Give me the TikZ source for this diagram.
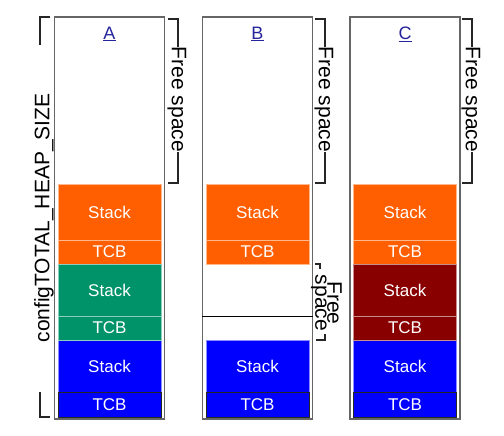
\documentclass[tikz,border=0pt]{standalone}
\usepackage{fontspec}
\setmainfont{Liberation Sans}
\definecolor{stkorange}{HTML}{FF5F00}
\definecolor{stkgreen}{HTML}{00936A}
\definecolor{stkblue}{HTML}{0000FF}
\definecolor{stkred}{HTML}{880000}
\definecolor{linkblue}{HTML}{24249C}
\begin{document}
\begin{tikzpicture}[x=1pt,y=-1pt,
  blk/.style={draw=white!55!#1,fill=#1,line width=0.8pt,text=white,
    minimum width=103pt,inner sep=0pt,font=\fontsize{17}{17}\selectfont},
  col/.style={draw=black!60,line width=1.3pt,minimum width=110pt,
    minimum height=402pt,inner sep=0pt},
  brk/.style={line width=1.3pt,black!85},
  side/.style={font=\fontsize{21}{21}\selectfont,inner sep=0pt}]
\useasboundingbox (0,0) rectangle (504,436);
\foreach \n/\cx in {A/109.5,B/257.5,C/405} {
  \node[col] (col\n) at (\cx,218) {};
  \node[text=linkblue,font=\fontsize{18}{18}\selectfont] (lab\n) at (\cx,34) {\underline{\n}};
  \node[blk=stkorange,minimum height=56pt] (sa\n) at (\cx,212) {Stack};
  \node[blk=stkorange,minimum height=24pt] (ta\n) at (\cx,252) {TCB};
  \node[blk=stkblue,minimum height=52pt] (sc\n) at (\cx,366) {Stack};
  \node[blk=stkblue,minimum height=25pt,draw=black!85] (tc\n) at (\cx,404.5) {TCB};
}
\foreach \n/\cx/\c in {A/109.5/stkgreen,C/405/stkred} {
  \node[blk=\c,minimum height=52pt] (sb\n) at (\cx,290) {Stack};
  \node[blk=\c,minimum height=24pt] (tb\n) at (\cx,328) {TCB};
}
\coordinate (splitB) at (257.5,316);
\draw[line width=1pt] (colB.west |- splitB) -- (colB.east |- splitB);
\node[side,rotate=90] (heap) at (44,218) {configTOTAL\_HEAP\_SIZE};
\draw[brk] (50,17) -| (40,45);
\draw[brk] (40,392) |- (50,417);
\foreach \n/\bx in {A/178,B/325,C/472} {
  \node[side,rotate=-90,inner xsep=1pt] (free\n) at (\bx-1,99.5) {Free space};
  \draw[brk] (\bx-10,19) -| (\bx,47);
  \draw[brk] (\bx,152) |- (\bx-10,183);
}
\node[side,rotate=-90,align=center,font=\fontsize{21}{12}\selectfont] (freeB2) at (326.5,303) {Free\\space};
\draw[brk] (315,264) -| (320,269);
\draw[brk] (316,340) -| (325,334);
\end{tikzpicture}
\end{document}
